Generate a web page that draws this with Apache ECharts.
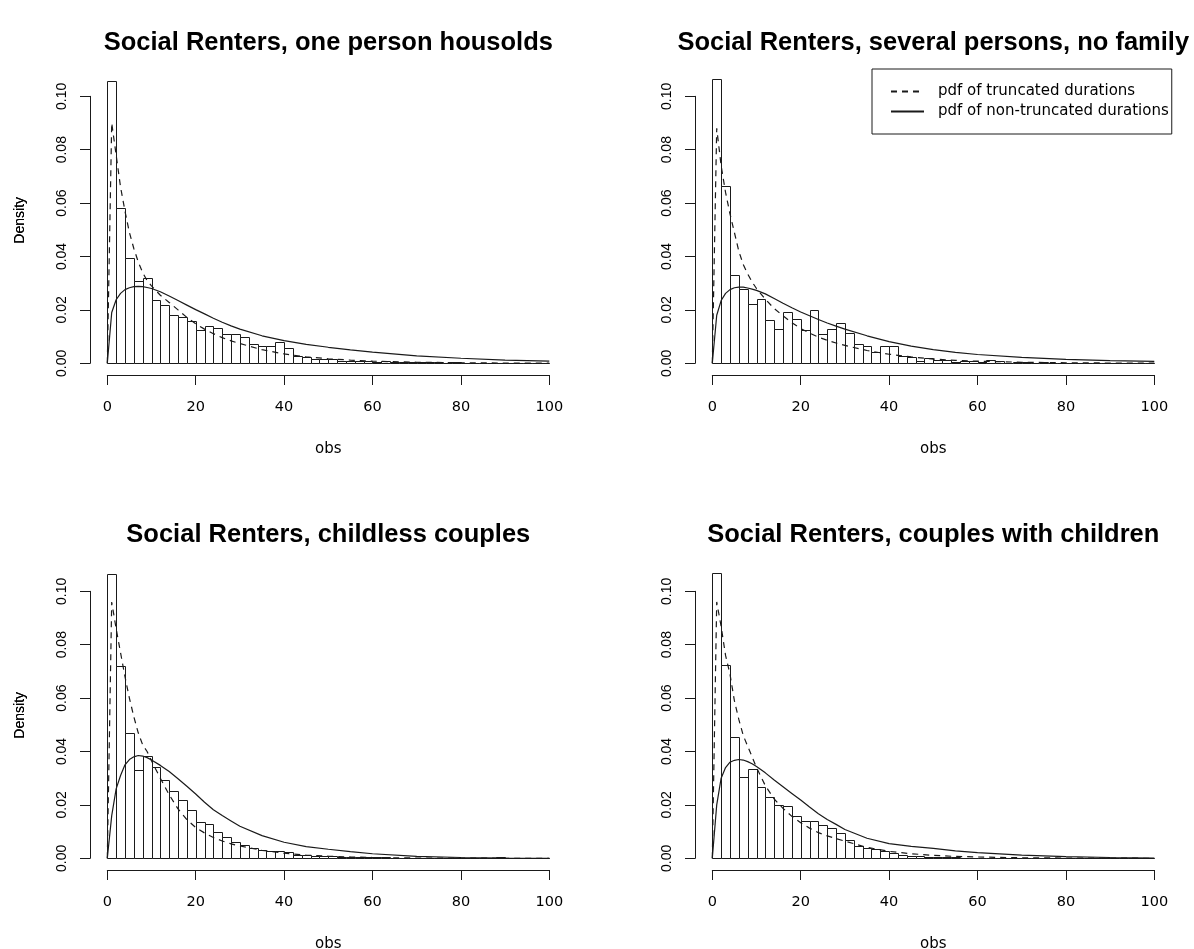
<!DOCTYPE html>
<html>
<head>
<meta charset="utf-8">
<script src="https://cdn.jsdelivr.net/npm/echarts/dist/echarts.min.js"></script>
<style>
html,body{margin:0;padding:0;background:#fff;}
#chart{width:1194px;height:949px;}
</style>
</head>
<body>
<div id="chart"></div>
<script>
// ---------- data ----------
const titles = [
  'Social Renters, one person housolds',
  'Social Renters, several persons, no family',
  'Social Renters, childless couples',
  'Social Renters, couples with children'
];
const xTicks = [0, 20, 40, 60, 80, 100];
const yTicks = [0, 0.02, 0.04, 0.06, 0.08, 0.10];
const binWidth = 2; // histogram bins 0-2, 2-4, ... 98-100

// histogram densities (one value per 2-unit bin)
const dens1 = [0.1057,0.0582,0.0394,0.0307,0.0321,0.0236,0.0219,0.0180,0.0173,0.0159,
  0.0126,0.0141,0.0131,0.0111,0.0111,0.0098,0.0071,0.0063,0.0066,0.0078,
  0.0058,0.0028,0.0024,0.0016,0.0016,0.0016,0.0008,0.0009,0.0007,0.0008,
  0.0006,0.0008,0.0005,0.0006,0.0004,0.0004,0.0003,0.0004,0.0002,0.0003,
  0.0002,0.0001,0.0001,0.0001,0.0001,0,0,0,0,0];
const dens2 = [0.1065,0.0663,0.0332,0.0277,0.0222,0.0241,0.0161,0.0130,0.0194,0.0165,
  0.0123,0.0201,0.0110,0.0128,0.0151,0.0114,0.0072,0.0065,0.0041,0.0064,
  0.0064,0.0029,0.0025,0.0008,0.0021,0.0014,0.0012,0.0004,0.0008,0.0008,
  0.0005,0.0014,0.0008,0.0002,0.0006,0.0004,0.0002,0.0003,0.0002,0.0002,
  0.0001,0.0001,0,0.0001,0,0,0,0,0,0];
const dens3 = [0.1064,0.0720,0.0471,0.0331,0.0383,0.0343,0.0293,0.0253,0.0218,0.0181,
  0.0136,0.0130,0.0098,0.0079,0.0060,0.0048,0.0037,0.0030,0.0026,0.0026,
  0.0022,0.0014,0.0012,0.0010,0.0008,0.0007,0.0006,0.0005,0.0004,0.0004,
  0.0003,0.0003,0.0002,0.0002,0.0001,0.0001,0.0001,0.0001,0.0001,0.0001,
  0.0001,0.0001,0.0001,0.0001,0.0003,0,0,0,0,0];
const dens4 = [0.1068,0.0725,0.0453,0.0306,0.0333,0.0268,0.0228,0.0198,0.0197,0.0160,
  0.0140,0.0138,0.0126,0.0112,0.0096,0.0068,0.0045,0.0037,0.0034,0.0029,
  0.0020,0.0012,0.0010,0.0008,0.0006,0.0005,0.0003,0.0003,0.0002,0.0002,
  0.0002,0.0001,0.0001,0.0001,0.0001,0.0001,0.0001,0,0,0,
  0,0,0,0,0,0,0,0,0,0];

// fitted curves, read at these x positions
const curveX = [0,1,2,3,4,5,6,7,8,9,10,12,14,16,18,20,22,24,26,28,30,35,40,45,50,55,60,70,80,90,100];
const trunc1 = [0,0.090,0.078,0.066,0.057,0.049,0.043,0.038,0.034,0.031,0.029,0.0255,0.0228,0.0200,0.0172,0.0148,0.0128,0.0111,0.0096,0.0084,0.0074,0.0051,0.0035,0.0024,0.0017,0.0012,0.0008,0.0004,0.0002,0.0001,0.0001];
const full1  = [0,0.019,0.0238,0.0262,0.0276,0.0283,0.0287,0.0288,0.0287,0.0284,0.0280,0.0268,0.0252,0.0235,0.0218,0.0201,0.0185,0.0169,0.0154,0.0140,0.0128,0.0103,0.0085,0.0071,0.0060,0.0050,0.0042,0.0028,0.0019,0.0012,0.0008];
const trunc2 = [0,0.088,0.074,0.064,0.056,0.049,0.042,0.037,0.0335,0.0305,0.028,0.0240,0.0205,0.0178,0.0152,0.0130,0.0113,0.0098,0.0086,0.0076,0.0067,0.0048,0.0034,0.0024,0.0016,0.0011,0.0008,0.0004,0.0002,0.0001,0.0001];
const full2  = [0,0.018,0.0235,0.0262,0.0276,0.0283,0.0285,0.0285,0.0282,0.0278,0.0273,0.0260,0.0243,0.0225,0.0208,0.0192,0.0178,0.0164,0.0151,0.0139,0.0128,0.0103,0.0081,0.0064,0.0051,0.0041,0.0033,0.0022,0.0015,0.0010,0.0007];
const trunc3 = [0,0.096,0.086,0.077,0.068,0.060,0.053,0.047,0.0425,0.040,0.0365,0.030,0.0238,0.0185,0.0145,0.0115,0.0095,0.0078,0.0065,0.0054,0.0046,0.0030,0.0019,0.0012,0.0008,0.0005,0.0003,0.0001,0.0001,0,0];
const full3  = [0,0.016,0.026,0.031,0.035,0.037,0.038,0.0385,0.0383,0.0377,0.0368,0.0348,0.0325,0.0298,0.0270,0.0241,0.0210,0.0182,0.0160,0.0140,0.0120,0.0085,0.0060,0.0044,0.0034,0.0025,0.0017,0.0007,0.0003,0.0001,0];
const trunc4 = [0,0.096,0.0868,0.076,0.069,0.059,0.052,0.046,0.042,0.038,0.034,0.0272,0.0222,0.0187,0.0157,0.0133,0.0113,0.0096,0.0084,0.0074,0.0064,0.0041,0.0026,0.0017,0.0011,0.0007,0.0005,0.0002,0.0001,0.0001,0];
const full4  = [0,0.020,0.030,0.034,0.0360,0.0367,0.0370,0.0368,0.0362,0.0354,0.0344,0.0320,0.0293,0.0268,0.0243,0.0218,0.0192,0.0167,0.0145,0.0127,0.0108,0.0075,0.0055,0.0045,0.0037,0.0028,0.0021,0.0012,0.0006,0.0003,0.0001];

const legendNames = ['pdf of truncated durations', 'pdf of non-truncated durations'];

// ---------- layout ----------
const FONT = '"Liberation Sans", Arial, Helvetica, sans-serif';
const WIDE = '"DejaVu Sans", "Liberation Sans", sans-serif';
const INK = '#1a1a1a';
const panels = [
  {left: 107.3, base: 363.3, titleY: 43},
  {left: 712.3, base: 363.3, titleY: 43},
  {left: 107.3, base: 858.3, titleY: 535},
  {left: 712.3, base: 858.3, titleY: 535}
];
const PW = 442, PH = 267;
const densList = [dens1, dens2, dens3, dens4];
const truncList = [trunc1, trunc2, trunc3, trunc4];
const fullList = [full1, full2, full3, full4];

const grids = [], xAxes = [], yAxes = [], series = [], graphics = [];

panels.forEach((p, i) => {
  grids.push({left: p.left, top: p.base - PH, width: PW, height: PH,
    containLabel: false, outerBoundsMode: 'none'});
  xAxes.push({
    gridIndex: i, type: 'value', min: xTicks[0], max: xTicks[xTicks.length - 1], interval: 20,
    offset: 11.7,
    axisLine: {show: true, onZero: false, lineStyle: {color: INK, width: 1}},
    axisTick: {show: true, inside: false, length: 10, lineStyle: {color: INK, width: 1}},
    axisLabel: {show: true, margin: 25, color: '#000', fontSize: 14.5, fontFamily: WIDE, hideOverlap: false},
    splitLine: {show: false},
    name: 'obs', nameLocation: 'middle', nameGap: 67,
    nameTextStyle: {color: '#000', fontSize: 15, fontFamily: WIDE}
  });
  yAxes.push({
    gridIndex: i, type: 'value', min: yTicks[0], max: yTicks[yTicks.length - 1], interval: 0.02,
    offset: 17.3,
    axisLine: {show: true, onZero: false, lineStyle: {color: INK, width: 1}},
    axisTick: {show: true, inside: false, length: 10, lineStyle: {color: INK, width: 1}},
    axisLabel: {show: true, rotate: 90, margin: 21, color: '#000', fontSize: 14, fontFamily: FONT,
      formatter: v => v.toFixed(2), hideOverlap: false},
    splitLine: {show: false}
  });
  const histData = densList[i].map((d, k) => [k * binWidth, (k + 1) * binWidth, d]);
  series.push({
    type: 'custom', name: 'histogram', xAxisIndex: i, yAxisIndex: i, clip: false, z: 2,
    data: histData,
    encode: {x: [0, 1], y: 2},
    renderItem: function (params, api) {
      const a = api.coord([api.value(0), 0]);
      const b = api.coord([api.value(1), api.value(2)]);
      const x0 = Math.round(a[0]) + 0.5, x1 = Math.round(b[0]) + 0.5;
      const y0 = Math.round(a[1]) + 0.5, y1 = Math.round(b[1]) + 0.5;
      return {type: 'rect', shape: {x: x0, y: y1, width: x1 - x0, height: y0 - y1},
        style: {fill: '#fff', stroke: INK, lineWidth: 1}};
    }
  });
  series.push({
    type: 'line', name: legendNames[0], xAxisIndex: i, yAxisIndex: i, z: 3,
    data: curveX.map((x, k) => [x, truncList[i][k]]),
    symbol: 'none', showSymbol: false, smooth: false, clip: false,
    itemStyle: {color: INK},
    lineStyle: {color: INK, width: 1.2, type: [6, 5]}
  });
  series.push({
    type: 'line', name: legendNames[1], xAxisIndex: i, yAxisIndex: i, z: 3,
    data: curveX.map((x, k) => [x, fullList[i][k]]),
    symbol: 'none', showSymbol: false, smooth: false, clip: false,
    itemStyle: {color: INK},
    lineStyle: {color: INK, width: 1.2, type: 'solid'}
  });
  graphics.push({
    type: 'text', x: p.left + PW / 2, y: p.titleY, scaleX: 1.02, scaleY: 1,
    style: {text: titles[i], font: 'bold 25px ' + FONT, fill: '#000',
      textAlign: 'center', textVerticalAlign: 'middle'}
  });
  graphics.push({
    type: 'text', x: 20, y: p.base - 143, rotation: Math.PI / 2,
    style: {text: 'Density', font: '14px ' + FONT, fill: '#000',
      textAlign: 'center', textVerticalAlign: 'middle'}
  });
});

const chart = echarts.init(document.getElementById('chart'));
chart.setOption({
  animation: false,
  backgroundColor: '#fff',
  grid: grids,
  xAxis: xAxes,
  yAxis: yAxes,
  legend: {
    show: true, data: legendNames, orient: 'vertical',
    left: 872, top: 69,
    padding: [15, 3, 15, 18],
    itemWidth: 33, itemHeight: 14, itemGap: 5,
    borderColor: INK, borderWidth: 1, borderRadius: 0,
    backgroundColor: '#fff',
    selectedMode: false,
    itemStyle: {opacity: 0, borderWidth: 0},
    textStyle: {color: '#000', fontSize: 15, fontFamily: WIDE, padding: [0, 0, 0, 9]}
  },
  graphic: graphics,
  series: series
});
</script>
</body>
</html>
